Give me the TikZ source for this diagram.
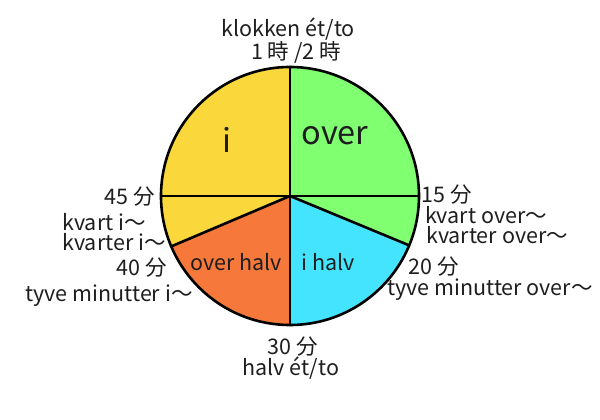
\documentclass[tikz,border=0pt]{standalone}
\usepackage{fontspec}
\usetikzlibrary{calc}
\setmainfont{Noto Sans CJK JP}
\definecolor{ycol}{RGB}{250,216,60}
\definecolor{gcol}{RGB}{128,255,112}
\definecolor{ocol}{RGB}{246,120,58}
\definecolor{ccol}{RGB}{68,228,255}
\definecolor{tcol}{RGB}{30,30,30}
\tikzset{
  lbl/.style={inner sep=0pt, text=tcol, font=\fontsize{21.5}{25}\selectfont},
  big/.style={inner sep=0pt, text=tcol, font=\fontsize{32.5}{38}\selectfont},
  sep/.style={line width=2.6pt, black},
}
\begin{document}
\begin{tikzpicture}[x=1pt,y=1pt]
\useasboundingbox (0,0) rectangle (600,420);
\coordinate (c) at (290,224);
\def\R{129}
\fill[ycol] (c) -- ++(90:\R) arc[start angle=90,end angle=203,radius=\R] -- cycle;
\fill[ocol] (c) -- ++(203:\R) arc[start angle=203,end angle=270,radius=\R] -- cycle;
\fill[ccol] (c) -- ++(270:\R) arc[start angle=270,end angle=337.5,radius=\R] -- cycle;
\fill[gcol] (c) -- ++(337.5:\R) arc[start angle=337.5,end angle=450,radius=\R] -- cycle;
\coordinate (p90) at ($(c)+(90:\R)$);
\coordinate (p0) at ($(c)+(0:\R)$);
\coordinate (p180) at ($(c)+(180:\R)$);
\coordinate (p203) at ($(c)+(203:\R)$);
\coordinate (p270) at ($(c)+(270:\R)$);
\coordinate (p337) at ($(c)+(337.5:\R)$);
\draw[sep] (p90) -- (p270);
\draw[sep] (p180) -- (p0);
\draw[sep] (c) -- (p203);
\draw[sep] (c) -- (p337);
\draw[sep] (c) circle[radius=\R];
% inside labels
\node[big] (ti) at (227,280) {i};
\node[big] (tover) at (335,284) {over};
\node[lbl] (toh) at (236,158) {over halv};
\node[lbl] (tih) at (328,158) {i halv};
% top
\node[lbl] (top1) at (288,391) {klokken ét/to};
\node[lbl] (top2) at (296,368) {1 時 /2 時};
% left
\node[lbl] (l45) at (130,223) {45 分};
\node[lbl] (lkv) at (104,198) {kvart i〜};
\node[lbl] (lkvr) at (114,178) {kvarter i〜};
\node[lbl] (l40) at (142,152) {40 分};
\node[lbl] (ltyve) at (109,124) {tyve minutter i〜};
% right
\node[lbl] (r15) at (447,225) {15 分};
\node[lbl] (rkv) at (486,205) {kvart over〜};
\node[lbl] (rkvr) at (497,185) {kvarter over〜};
\node[lbl] (r20) at (434,153) {20 分};
\node[lbl] (rtyve) at (490,130) {tyve minutter over〜};
% bottom
\node[lbl] (b30) at (293,73.5) {30 分};
\node[lbl] (bhalv) at (291,51.5) {halv ét/to};
\end{tikzpicture}
\end{document}
